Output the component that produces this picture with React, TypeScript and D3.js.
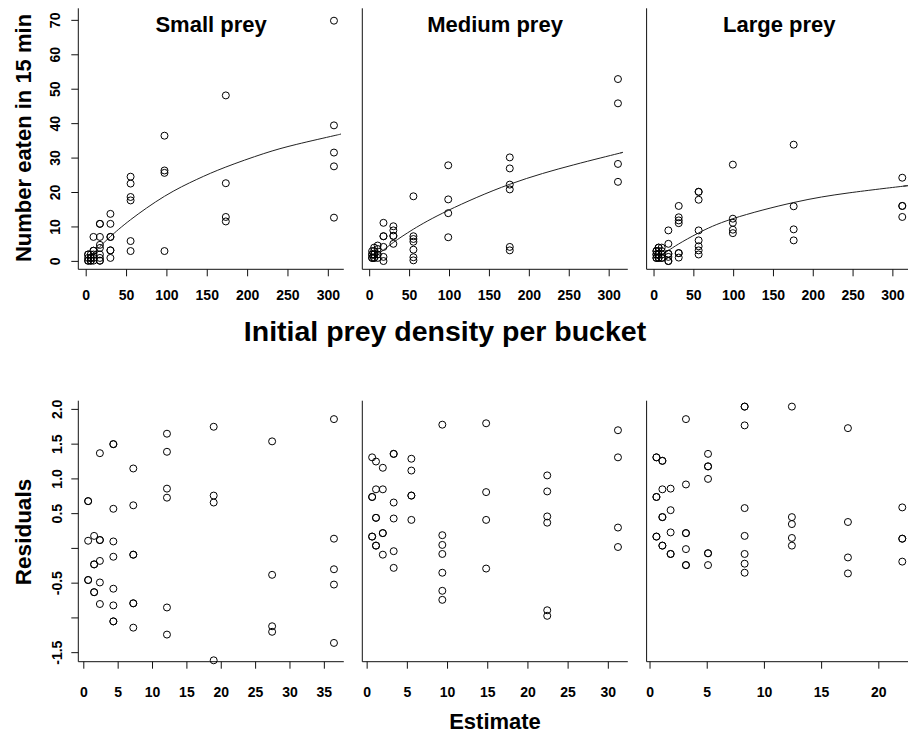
import React from "react";
import * as d3 from "d3";

// ---------- DATA ----------
const panelTitles = ["Small prey", "Medium prey", "Large prey"];

const smallDensity = [2.4, 5.7, 9, 17, 30, 55, 97, 173, 307];
const smallEaten = [
  [2, 2, 1, 0.2, 0.2],
  [2, 1, 1, 0.2, 0.2],
  [7.1, 3.1, 3.1, 2, 1, 0.2],
  [10.9, 10.9, 7.1, 4.8, 3.9, 2, 1, 0.2, 0.2],
  [13.8, 10.9, 7.1, 7.1, 3.2, 3.2, 1],
  [24.6, 22.6, 18.7, 17.7, 5.9, 3],
  [36.5, 26.4, 25.7, 3],
  [48.2, 22.7, 12.9, 11.6],
  [69.9, 39.5, 31.6, 27.6, 12.7],
];
// fitted curve
const smallFitDensity = [2.4, 9, 17, 30, 55, 97, 137, 173, 220, 261, 307, 315];
const smallFit = [0.63, 2.34, 4.3, 7.2, 12.1, 18.9, 23.8, 27.4, 31.3, 34.0, 36.5, 36.95];
const smallEstimate = [0.63, 1.5, 2.34, 4.3, 7.2, 12.1, 18.9, 27.4, 36.4];
const smallResid = [
  [0.68, 0.68, 0.11, -0.455, -0.455],
  [0.18, -0.23, -0.23, -0.63, -0.63],
  [1.37, 0.12, 0.12, -0.18, -0.49, -0.8],
  [1.5, 1.5, 0.57, 0.1, -0.12, -0.58, -0.82, -1.05, -1.05],
  [1.15, 0.62, -0.09, -0.09, -0.79, -0.79, -1.14],
  [1.65, 1.39, 0.86, 0.73, -0.85, -1.24],
  [1.75, 0.76, 0.66, -1.61],
  [1.54, -0.38, -1.12, -1.2],
  [1.86, 0.14, -0.3, -0.52, -1.36],
];

const mediumDensity = [3.1, 5.6, 10, 17.3, 29.7, 54.8, 98.4, 175.5, 311];
const mediumEaten = [
  [3, 2, 2, 1, 1],
  [4, 3, 2, 2, 1, 1],
  [4.6, 3.6, 2, 2, 1],
  [11.2, 7.3, 7.3, 4.2, 1.3, 0.1],
  [10.2, 9.0, 7.4, 7.4, 5.1],
  [18.9, 7.3, 6.5, 5.7, 3.4, 1.2, 0.3],
  [27.9, 18.0, 14.0, 7.0],
  [30.2, 27.0, 22.3, 20.9, 4.2, 3.2],
  [52.95, 45.9, 28.3, 23.1],
];
const mediumFitDensity = [3.1, 10, 17.3, 29.7, 54.8, 98.4, 175.5, 255, 311, 314];
const mediumFit = [0.62, 1.95, 3.3, 5.5, 9.35, 14.8, 22.4, 28.0, 31.3, 31.5];
const mediumEstimate = [0.62, 1.1, 1.95, 3.3, 5.5, 9.35, 14.8, 22.4, 31.2];
const mediumResid = [
  [1.31, 0.74, 0.74, 0.17, 0.17],
  [1.25, 0.85, 0.44, 0.44, 0.04, 0.04],
  [1.16, 0.85, 0.22, 0.22, -0.09],
  [1.36, 1.36, 0.66, 0.43, -0.04, -0.28],
  [1.29, 1.12, 0.76, 0.76, 0.41],
  [1.78, 0.19, 0.05, -0.08, -0.35, -0.61, -0.74],
  [1.8, 0.81, 0.41, -0.29],
  [1.05, 0.82, 0.46, 0.37, -0.89, -0.97],
  [1.7, 1.31, 0.3, 0.02],
];

const largeDensity = [3, 5.7, 9.6, 18, 31, 56, 99, 175.4, 311.8];
const largeEaten = [
  [3, 3, 2, 2, 1, 1],
  [4, 4, 3, 2, 2, 1, 1],
  [4, 3, 2, 1, 1],
  [9, 5.1, 2.2, 2.2, 1.3, 0.1, 0.1],
  [16.1, 12.8, 11.9, 11.1, 2.4, 2.4, 1.1],
  [20.2, 20.2, 17.9, 9.0, 6.1, 4.4, 3.2, 2.0],
  [28.1, 12.4, 11.2, 9.2, 8.2],
  [33.9, 16.0, 9.3, 6.1],
  [24.3, 16.1, 16.1, 12.9],
];
const largeFitDensity = [3, 9.6, 18, 31, 56, 99, 175.4, 245, 311.8, 313];
const largeFit = [0.56, 1.8, 3.14, 5.07, 8.27, 12.4, 17.1, 19.9, 21.8, 21.85];
const largeEstimate = [0.56, 1.08, 1.8, 3.14, 5.07, 8.27, 12.4, 17.3, 22.05];
const largeResid = [
  [1.31, 1.31, 0.74, 0.74, 0.17, 0.17],
  [1.26, 1.26, 0.85, 0.45, 0.45, 0.04, 0.04],
  [0.86, 0.55, 0.23, -0.08, -0.08],
  [1.86, 0.92, 0.22, 0.22, -0.01, -0.24, -0.24],
  [1.36, 1.18, 1.18, 1.0, -0.07, -0.07, -0.24],
  [2.04, 2.04, 1.77, 0.58, 0.18, -0.08, -0.22, -0.35],
  [2.04, 0.45, 0.35, 0.15, 0.04],
  [1.73, 0.38, -0.13, -0.36],
  [0.59, 0.14, 0.14, -0.19],
];

const topYTicks = [0, 10, 20, 30, 40, 50, 60, 70];
const topXTicks = [0, 50, 100, 150, 200, 250, 300];
const residTicks = [2.0, 1.5, 1.0, 0.5, 0, -0.5, -1.0, -1.5];
const residTickLabels = ["2.0", "1.5", "1.0", "0.5", "", "-0.5", "", "-1.5"];
const estimateTicks = [
  [0, 5, 10, 15, 20, 25, 30, 35],
  [0, 5, 10, 15, 20, 25, 30],
  [0, 5, 10, 15, 20],
];

// ---------- LAYOUT ----------
const W = 908;
const H = 735;
const FONT = "'Liberation Sans', Arial, Helvetica, sans-serif";
const panelLefts = [78.3, 362.3, 646.6];
const panelW = 265.5;
const topT = 8.3, topB = 269.3;
const botT = 400.7, botB = 661.7;
const TICK = 7;
const INK = "#111";

function extended(vals: number[]): [number, number] {
  const [a, b] = d3.extent(vals) as [number, number];
  const r = b - a;
  return [a - 0.04 * r, b + 0.04 * r];
}

const panels = [
  { d: smallDensity, e: smallEaten, fd: smallFitDensity, f: smallFit, est: smallEstimate, res: smallResid },
  { d: mediumDensity, e: mediumEaten, fd: mediumFitDensity, f: mediumFit, est: mediumEstimate, res: mediumResid },
  { d: largeDensity, e: largeEaten, fd: largeFitDensity, f: largeFit, est: largeEstimate, res: largeResid },
];

const yTop = d3.scaleLinear().domain([-2.3, 73.5]).range([topB, topT]);
const yBot = d3.scaleLinear().domain([-1.63, 2.125]).range([botB, botT]);

export default function App() {
  return (
    <div style={{ position: "absolute", left: 0, top: 0 }}>
      <svg width={W} height={H} viewBox={`0 0 ${W} ${H}`} style={{ display: "block", background: "#fff" }} fontFamily={FONT}>
        <rect x={0} y={0} width={W} height={H} fill="#fff" />
        {panels.map((p, i) => {
          const left = panelLefts[i];
          const right = left + panelW;
          const xTop = d3.scaleLinear().domain(extended(p.d)).range([left, right]);
          const xBot = d3.scaleLinear().domain(extended(p.est)).range([left, right]);
          const line = d3
            .line<number>()
            .x((_, k) => xTop(p.fd[k]))
            .y((v) => yTop(v))
            .curve(d3.curveNatural);
          const cx = (left + right) / 2;
          return (
            <g key={i}>
              {/* ---- top panel ---- */}
              <text x={cx} y={32} textAnchor="middle" fontSize={22} fontWeight="bold" fill="#000">
                {panelTitles[i]}
              </text>
              <line x1={left} x2={right} y1={topB} y2={topB} stroke={INK} strokeWidth={1} />
              <line x1={left} x2={left} y1={topT} y2={topB} stroke={INK} strokeWidth={1} />
              {topXTicks.map((t) => (
                <g key={t}>
                  <line x1={xTop(t)} x2={xTop(t)} y1={topB} y2={topB + TICK} stroke={INK} />
                  <text x={xTop(t)} y={300} textAnchor="middle" fontSize={14} fontWeight="bold">
                    {t}
                  </text>
                </g>
              ))}
              {i === 0 &&
                topYTicks.map((t) => (
                  <g key={t}>
                    <line x1={left - TICK} x2={left} y1={yTop(t)} y2={yTop(t)} stroke={INK} />
                    <text
                      transform={`translate(60,${yTop(t)}) rotate(-90)`}
                      textAnchor="middle"
                      fontSize={14}
                      fontWeight="bold"
                    >
                      {t}
                    </text>
                  </g>
                ))}
              <path d={line(p.f) || ""} fill="none" stroke="#222" strokeWidth={1} />
              {p.e.map((vals, k) =>
                vals.map((v, j) => (
                  <circle key={`${k}-${j}`} cx={xTop(p.d[k])} cy={yTop(v)} r={3.5} fill="none" stroke="#000" strokeWidth={1} />
                ))
              )}

              {/* ---- bottom panel ---- */}
              <line x1={left} x2={right} y1={botB} y2={botB} stroke={INK} strokeWidth={1} />
              <line x1={left} x2={left} y1={botT} y2={botB} stroke={INK} strokeWidth={1} />
              {estimateTicks[i].map((t) => (
                <g key={t}>
                  <line x1={xBot(t)} x2={xBot(t)} y1={botB} y2={botB + TICK} stroke={INK} />
                  <text x={xBot(t)} y={697} textAnchor="middle" fontSize={14} fontWeight="bold">
                    {t}
                  </text>
                </g>
              ))}
              {i === 0 &&
                residTicks.map((t, k) => (
                  <g key={t}>
                    <line x1={left - TICK} x2={left} y1={yBot(t)} y2={yBot(t)} stroke={INK} />
                    <text
                      transform={`translate(62,${yBot(t)}) rotate(-90)`}
                      textAnchor="middle"
                      fontSize={14}
                      fontWeight="bold"
                    >
                      {residTickLabels[k]}
                    </text>
                  </g>
                ))}
              {p.res.map((vals, k) =>
                vals.map((v, j) => (
                  <circle key={`r${k}-${j}`} cx={xBot(p.est[k])} cy={yBot(v)} r={3.5} fill="none" stroke="#000" strokeWidth={1} />
                ))
              )}
            </g>
          );
        })}

        {/* axis labels */}
        <text transform="translate(31,138) rotate(-90)" textAnchor="middle" fontSize={22} fontWeight="bold">
          Number eaten in 15 min
        </text>
        <text x={445} y={341} textAnchor="middle" fontSize={28.5} fontWeight="bold">
          Initial prey density per bucket
        </text>
        <text transform="translate(31,532) rotate(-90)" textAnchor="middle" fontSize={22.5} fontWeight="bold">
          Residuals
        </text>
        <text x={495} y={729} textAnchor="middle" fontSize={22} fontWeight="bold">
          Estimate
        </text>
      </svg>
    </div>
  );
}
